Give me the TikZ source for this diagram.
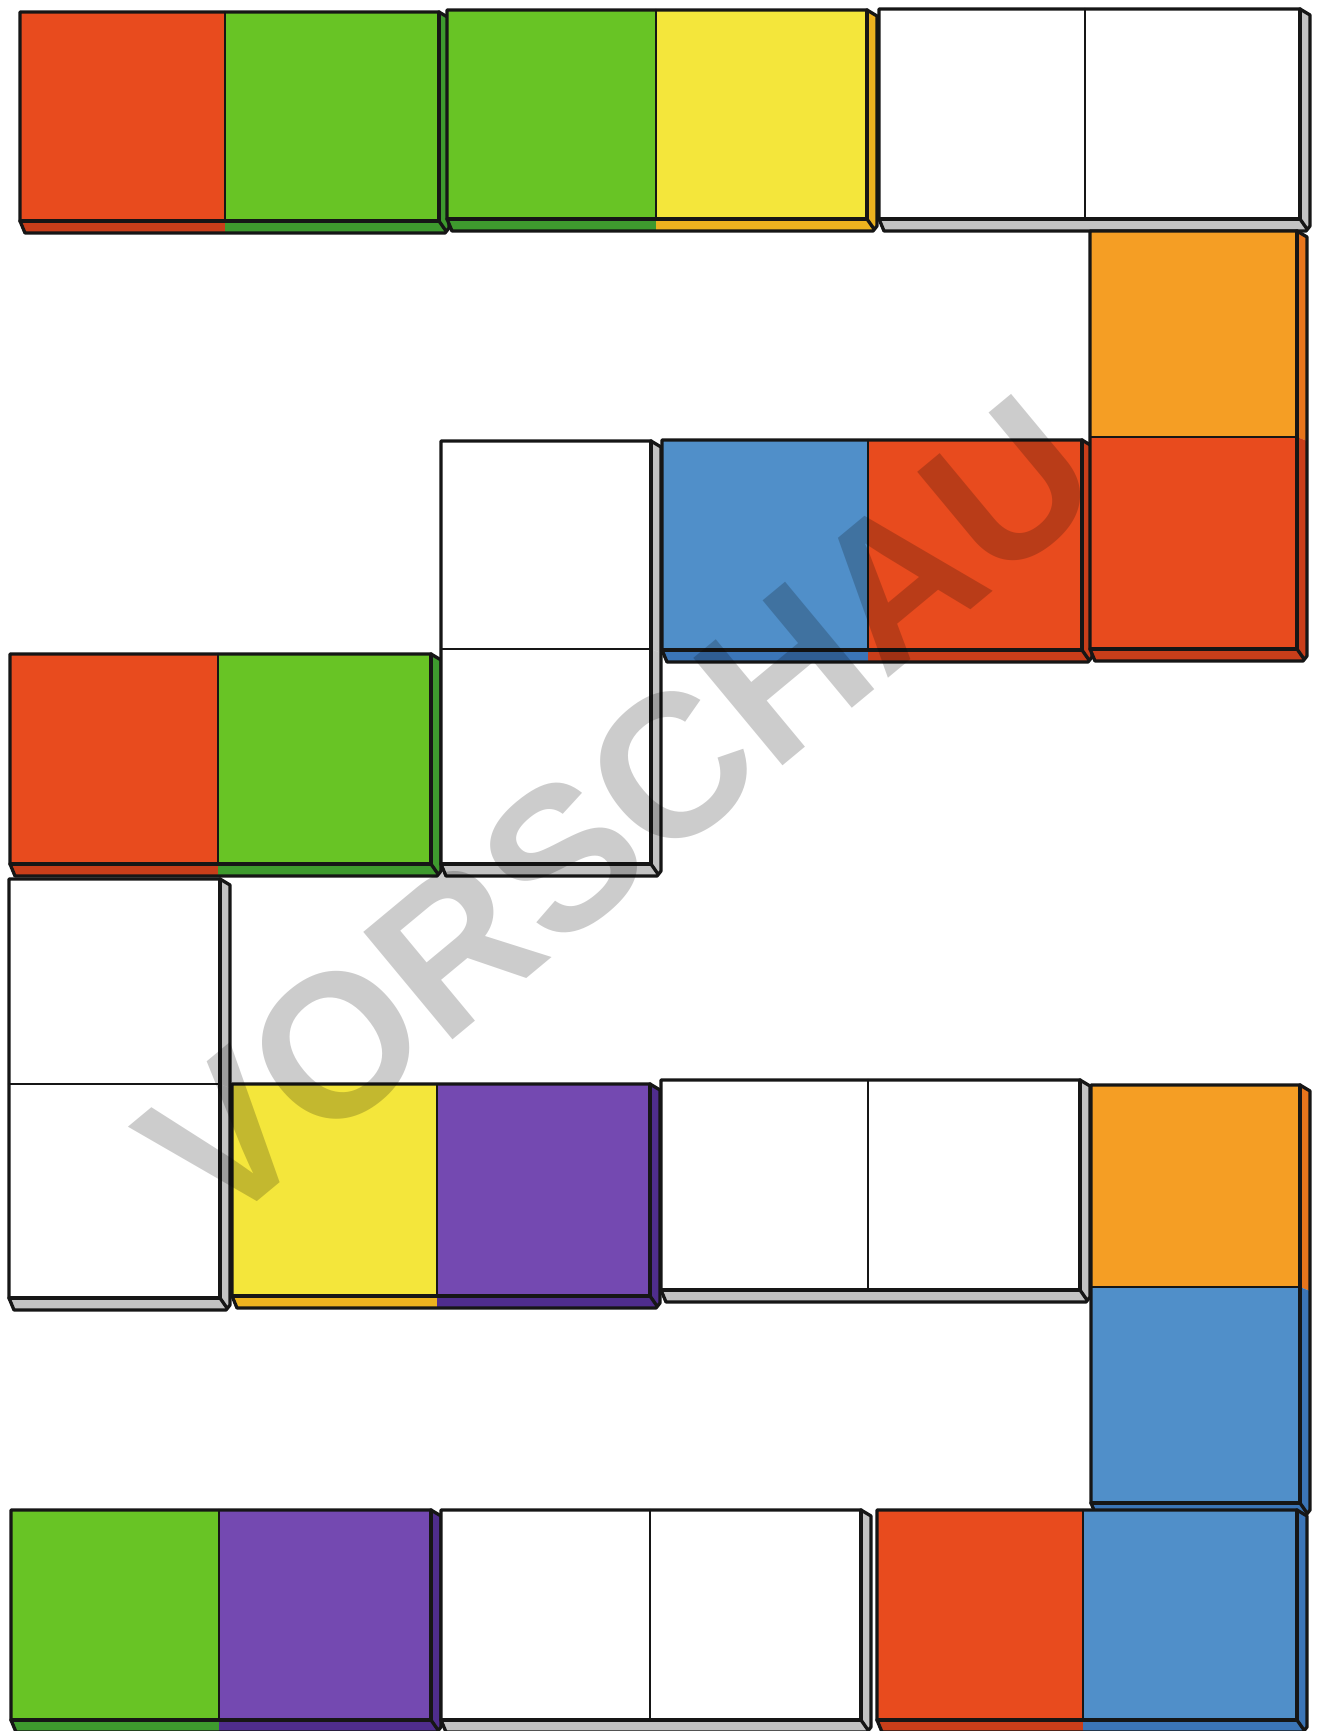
\documentclass[tikz,border=0pt]{standalone}
\usepackage{fontspec}
\setmainfont{Liberation Sans}
\definecolor{cR}{HTML}{E84B1E}\definecolor{cRd}{HTML}{C93E1A}
\definecolor{cG}{HTML}{68C425}\definecolor{cGd}{HTML}{3E9A2E}
\definecolor{cY}{HTML}{F4E63B}\definecolor{cYd}{HTML}{EDB21F}
\definecolor{cW}{HTML}{FFFFFF}\definecolor{cWd}{HTML}{C3C3C3}
\definecolor{cO}{HTML}{F59E24}\definecolor{cOd}{HTML}{E7751C}
\definecolor{cB}{HTML}{508FC9}\definecolor{cBd}{HTML}{3B75B7}
\definecolor{cP}{HTML}{7449B1}\definecolor{cPd}{HTML}{4F2D8D}
\definecolor{ink}{HTML}{161616}
\tikzset{
  edge/.style={draw=ink, line width=3.3pt, line join=round, line cap=round},
  inner/.style={draw=ink, line width=2.5pt, line cap=round},
  mark wm/.style={font=\bfseries\fontsize{203}{203}\selectfont, text=black,
    text opacity=0.2, inner sep=0pt, rotate=39.7}
}
% horizontal domino: x1 y1 xm x2 y2 leftcolour rightcolour
\newcommand\hdom[7]{%
  \fill[#6d] (#1,#5) -- (#3,#5) -- (#3,#5+12) -- (#1+5,#5+12) -- cycle;
  \fill[#7d] (#3,#5) -- (#4,#5) -- (#4,#2) -- (#4+10,#2+6) -- (#4+10,#5+7) -- (#4+6,#5+12) -- (#3,#5+12) -- cycle;
  \fill[#6] (#1,#2) rectangle (#3,#5);
  \fill[#7] (#3,#2) rectangle (#4,#5);
  \draw[edge] (#1,#2) -- (#4,#2) -- (#4+10,#2+6) -- (#4+10,#5+7) -- (#4+6,#5+12) -- (#1+5,#5+12) -- (#1,#5) -- cycle;
  \draw[edge] (#1,#5) -- (#4,#5) -- (#4,#2);
  \draw[edge] (#4,#5) -- (#4+7,#5+10);
  \draw[inner] (#3,#2) -- (#3,#5);
}
% vertical domino: x1 y1 ym x2 y2 topcolour bottomcolour
\newcommand\vdom[7]{%
  \fill[#6d] (#4,#2) -- (#4+10,#2+6) -- (#4+10,#3+4) -- (#4,#3) -- cycle;
  \fill[#7d] (#4,#3) -- (#4+10,#3+4) -- (#4+10,#5+7) -- (#4+6,#5+12) -- (#1+5,#5+12) -- (#1,#5) -- (#4,#5) -- cycle;
  \fill[#6] (#1,#2) rectangle (#4,#3);
  \fill[#7] (#1,#3) rectangle (#4,#5);
  \draw[edge] (#1,#2) -- (#4,#2) -- (#4+10,#2+6) -- (#4+10,#5+7) -- (#4+6,#5+12) -- (#1+5,#5+12) -- (#1,#5) -- cycle;
  \draw[edge] (#1,#5) -- (#4,#5) -- (#4,#2);
  \draw[edge] (#4,#5) -- (#4+7,#5+10);
  \draw[inner] (#1,#3) -- (#4,#3);
}
\begin{document}
\begin{tikzpicture}[x=1pt, y=-1pt]
  \useasboundingbox (0,0) rectangle (1321,1731);
  \fill[white] (0,0) rectangle (1321,1731);
  % top row
  \hdom{20}{12}{225}{439}{221}{cR}{cG}
  \hdom{447}{10}{656}{867}{219}{cG}{cY}
  \hdom{879}{9}{1085}{1300}{219}{cW}{cW}
  % third row
  \hdom{662}{440}{868}{1082}{650}{cB}{cR}
  \vdom{1090}{231}{437}{1297}{649}{cO}{cR}
  % fourth row
  \hdom{10}{654}{218}{431}{864}{cR}{cG}
  \vdom{441}{441}{649}{651}{864}{cW}{cW}
  % left column and sixth row
  \vdom{9}{879}{1084}{220}{1298}{cW}{cW}
  \hdom{232}{1084}{437}{650}{1296}{cY}{cP}
  \hdom{661}{1080}{868}{1080}{1290}{cW}{cW}
  \vdom{1091}{1085}{1287}{1300}{1503}{cO}{cB}
  % bottom row
  \hdom{11}{1510}{219}{431}{1720}{cG}{cP}
  \hdom{441}{1510}{650}{861}{1720}{cW}{cW}
  \hdom{877}{1510}{1083}{1297}{1720}{cR}{cB}
  % watermark
  \node[mark wm] (wm) at (619,811) {VORSCHAU};
\end{tikzpicture}
\end{document}
